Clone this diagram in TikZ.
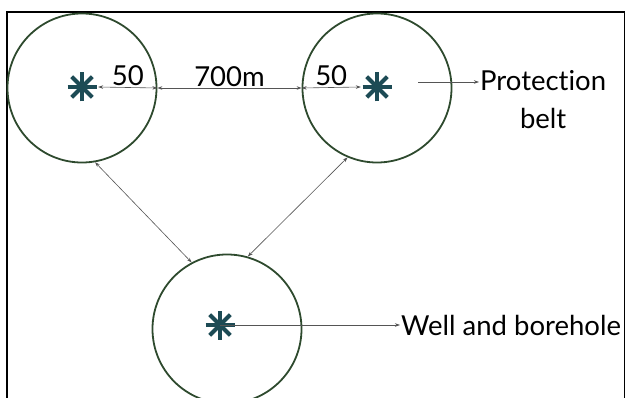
\documentclass[tikz,border=0pt]{standalone}
\usepackage{fontspec}
\setmainfont[Ligatures=NoCommon]{Lato}
\usetikzlibrary{arrows.meta,positioning}
\definecolor{beltgreen}{HTML}{2E4A2E}
\definecolor{welltel}{HTML}{1D4B55}
\definecolor{leadgray}{HTML}{555555}

\begin{document}
\begin{tikzpicture}[x=1pt, y=-1pt,
        belt/.style={circle, draw=beltgreen, line width=1.8pt, minimum size=149pt, inner sep=0pt},
        wellmark/.style={circle, minimum size=32pt, inner sep=0pt,
            path picture={\foreach \a in {0,45,90,135} {
                \draw[welltel, line width=4.2pt] ([shift={(\a:-14.5pt)}]path picture bounding box.center)
                    -- ([shift={(\a:14.5pt)}]path picture bounding box.center); }}},
        lead/.style={leadgray, line width=0.6pt, -{Stealth[length=5pt, width=3.5pt]}},
        dim/.style={leadgray, line width=0.6pt, {Stealth[length=5pt, width=3.5pt]}-{Stealth[length=5pt, width=3.5pt]}},
        txt/.style={font=\fontsize{27.5}{38}\selectfont, text=black, inner sep=1pt}
    ]
    \useasboundingbox (0,0) rectangle (626,398);

    % frame
    \draw[line width=1.6pt] (7,400) -- (7,12) -- (624.5,12) -- (624.5,400);

    % === belts ===
    \node[belt] (c1) at (82,88) {};
    \node[belt] (c2) at (377,88) {};
    \node[belt] (c3) at (227,329) {};

    % wells
    \node[wellmark] (w1) at (82,87) {};
    \node[wellmark] (w2) at (377,87) {};
    \node[wellmark] (w3) at (220,325) {};

    % === distances ===
    \draw[dim] (w1.east) -- (c1.east) node[midway, above=0pt, txt] (d1) {50};
    \draw[dim] (c1.east) -- (c2.west) node[midway, above=0pt, txt] (d2) {700m};
    \draw[dim] (c2.west) -- (w2.west) node[midway, above=0pt, txt] (d3) {50};

    % labels
    \coordinate (p0) at (418,82);
    \node[txt, align=center, anchor=north west] (prot) at (479,69) {Protection\\belt};
    \draw[lead] (p0) -- (prot.west |- p0);

    \node[txt, anchor=west] (bore) at (400,325) {Well and borehole};
    \draw[lead] (w3.center) -- (bore.west);

    % links
    \draw[dim] (c1.-80) -- (c3.118);
    \draw[dim] (c2.-113) -- (c3.74);

\end{tikzpicture}
\end{document}
